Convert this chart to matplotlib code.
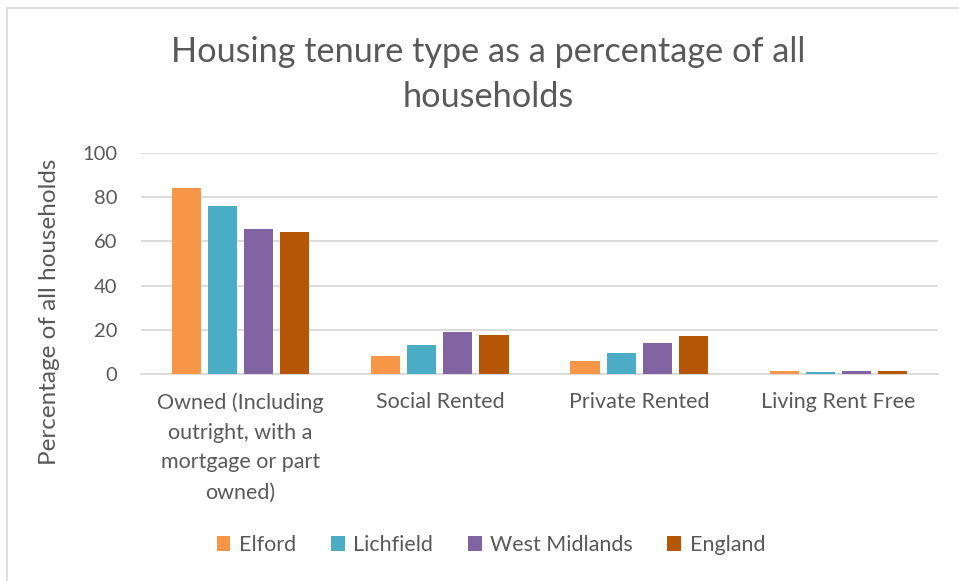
import numpy as np
import matplotlib
matplotlib.use("Agg")
import matplotlib.pyplot as plt
import matplotlib.patches as patches

# data
categories = [
    "Owned (Including\noutright, with a\nmortgage or part\nowned)",
    "Social Rented",
    "Private Rented",
    "Living Rent Free",
]
series_names = ["Elford", "Lichfield", "West Midlands", "England"]
elford = [84.3, 8.0, 6.1, 1.5]
lichfield = [76.0, 13.2, 9.5, 1.0]
west_midlands = [65.5, 19.0, 14.1, 1.3]
england = [64.1, 17.7, 17.0, 1.3]
yticks = [0, 20, 40, 60, 80, 100]

colors = ["#F79646", "#4BACC6", "#8064A2", "#B65708"]
text_color = "#595959"
grid_color = "#D9D9D9"

plt.rcParams["font.family"] = ["Lato", "DejaVu Sans"]

W, H = 959, 581
fig = plt.figure(figsize=(W / 100, H / 100), dpi=100)

# light border of the chart area (only top and left visible in the crop)
fig.add_artist(patches.Rectangle((7 / W, -0.1), 1.2, (H - 8) / H + 0.1,
                                 transform=fig.transFigure, fill=False,
                                 edgecolor=grid_color, linewidth=1.2))

left, right, top, bottom = 141, 938, 153, 374
ax = fig.add_axes([left / W, (H - bottom) / H, (right - left) / W, (bottom - top) / H])

x = np.arange(len(categories))
step = 0.181
width = 0.146
for j, (name, vals) in enumerate(zip(series_names, [elford, lichfield, west_midlands, england])):
    ax.bar(x + (j - 1.5) * step, vals, width, color=colors[j], label=name, zorder=3)

ax.set_xlim(-0.5, len(categories) - 0.5)
ax.set_ylim(0, 100)
ax.set_yticks(yticks)
ax.set_yticklabels([str(t) for t in yticks], fontsize=14.5, color=text_color)
ax.grid(axis="y", color=grid_color, linewidth=1.3, zorder=0)
ax.set_xticks(x)
ax.set_xticklabels(categories, fontsize=15.5, color=text_color, linespacing=1.62, va="top")
ax.tick_params(axis="both", length=0)
ax.tick_params(axis="y", pad=17)
ax.tick_params(axis="x", pad=13)
for s in ["top", "right", "left"]:
    ax.spines[s].set_visible(False)
ax.spines["bottom"].set_color(grid_color)
ax.spines["bottom"].set_linewidth(1.3)

fig.text(50 / W, 1 - 312 / H, "Percentage of all households", rotation=90,
         ha="center", va="center", fontsize=17.5, color=text_color)

fig.text(488 / W, 1 - 74 / H, "Housing tenure type as a percentage of all\nhouseholds",
         ha="center", va="center", fontsize=24.7, color=text_color, linespacing=1.5)

leg = fig.legend(loc="center", bbox_to_anchor=(491 / W, 1 - 545 / H), ncol=4,
                 frameon=False, fontsize=15.5, handlelength=0.65, handleheight=0.65,
                 handletextpad=0.4, columnspacing=1.6)
for t in leg.get_texts():
    t.set_color(text_color)

fig.savefig("out.png", dpi=100)
